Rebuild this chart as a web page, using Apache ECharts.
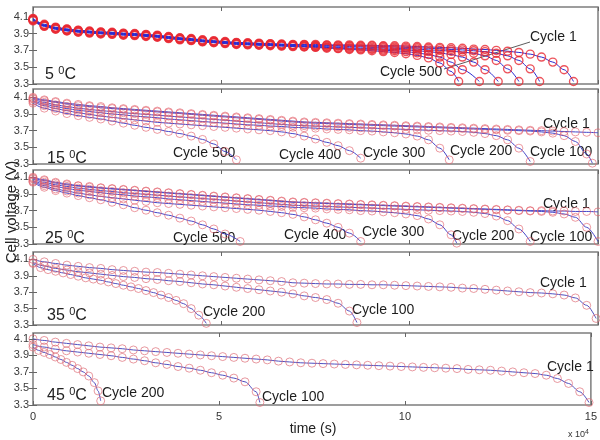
<!DOCTYPE html>
<html><head><meta charset="utf-8">
<script src="https://cdn.jsdelivr.net/npm/echarts@6/dist/echarts.min.js"></script>
<style>html,body{margin:0;padding:0;background:#fff}#c{width:600px;height:440px}</style>
</head><body><div id="c"></div>
<script>
// ---------- data (time in 1e4 s, voltage in V) ----------
const xTicks = [0, 5, 10, 15];
const yTicks = [3.3, 3.5, 3.7, 3.9, 4.1];
const temps = ['5', '15', '25', '35', '45'];

// 5 C
const p1c1 = [[0,4.08],[0.3,4.01],[0.6,3.975],[0.9,3.955],[1.2,3.94],[1.5,3.93],[1.8,3.92],[2.1,3.915],[2.4,3.905],[2.7,3.9],[3,3.89],[3.3,3.88],[3.6,3.865],[3.9,3.85],[4.2,3.84],[4.5,3.825],[4.8,3.815],[5.1,3.805],[5.4,3.795],[5.7,3.79],[6,3.785],[6.3,3.78],[6.6,3.775],[6.9,3.77],[7.2,3.77],[7.5,3.77],[7.8,3.765],[8.1,3.765],[8.4,3.765],[8.7,3.76],[9,3.76],[9.3,3.755],[9.6,3.755],[9.9,3.75],[10.2,3.745],[10.5,3.74],[10.8,3.735],[11.1,3.73],[11.4,3.725],[11.7,3.715],[12,3.71],[12.3,3.7],[12.6,3.69],[12.9,3.675],[13.2,3.655],[13.5,3.62],[13.8,3.56],[14.1,3.47],[14.35,3.33]];
const p1c100 = [[0,4.07],[0.3,4.0],[0.6,3.97],[0.9,3.95],[1.2,3.935],[1.5,3.925],[1.8,3.915],[2.1,3.91],[2.4,3.9],[2.7,3.895],[3,3.885],[3.3,3.875],[3.6,3.86],[3.9,3.845],[4.2,3.835],[4.5,3.82],[4.8,3.81],[5.1,3.8],[5.4,3.79],[5.7,3.785],[6,3.78],[6.3,3.775],[6.6,3.77],[6.9,3.765],[7.2,3.765],[7.5,3.76],[7.8,3.76],[8.1,3.755],[8.4,3.755],[8.7,3.75],[9,3.75],[9.3,3.745],[9.6,3.74],[9.9,3.735],[10.2,3.73],[10.5,3.725],[10.8,3.72],[11.1,3.71],[11.4,3.705],[11.7,3.695],[12,3.685],[12.3,3.665],[12.6,3.635],[12.9,3.58],[13.2,3.48],[13.45,3.33]];
const p1c200 = [[0,4.07],[0.3,4.0],[0.6,3.965],[0.9,3.945],[1.2,3.93],[1.5,3.92],[1.8,3.91],[2.1,3.905],[2.4,3.895],[2.7,3.89],[3,3.88],[3.3,3.87],[3.6,3.855],[3.9,3.84],[4.2,3.83],[4.5,3.815],[4.8,3.805],[5.1,3.795],[5.4,3.785],[5.7,3.78],[6,3.775],[6.3,3.77],[6.6,3.765],[6.9,3.76],[7.2,3.76],[7.5,3.755],[7.8,3.75],[8.1,3.75],[8.4,3.745],[8.7,3.74],[9,3.735],[9.3,3.73],[9.6,3.725],[9.9,3.72],[10.2,3.715],[10.5,3.705],[10.8,3.7],[11.1,3.69],[11.4,3.68],[11.7,3.665],[12,3.635],[12.3,3.58],[12.6,3.48],[12.9,3.33]];
const p1c300 = [[0,4.06],[0.3,3.995],[0.6,3.96],[0.9,3.94],[1.2,3.925],[1.5,3.915],[1.8,3.905],[2.1,3.9],[2.4,3.89],[2.7,3.885],[3,3.875],[3.3,3.865],[3.6,3.85],[3.9,3.835],[4.2,3.825],[4.5,3.81],[4.8,3.8],[5.1,3.79],[5.4,3.78],[5.7,3.775],[6,3.77],[6.3,3.765],[6.6,3.76],[6.9,3.755],[7.2,3.75],[7.5,3.745],[7.8,3.74],[8.1,3.735],[8.4,3.73],[8.7,3.725],[9,3.72],[9.3,3.715],[9.6,3.71],[9.9,3.705],[10.2,3.695],[10.5,3.685],[10.8,3.67],[11.1,3.65],[11.4,3.62],[11.7,3.56],[12,3.47],[12.35,3.33]];
const p1c400 = [[0,4.06],[0.3,3.99],[0.6,3.955],[0.9,3.935],[1.2,3.92],[1.5,3.91],[1.8,3.9],[2.1,3.895],[2.4,3.885],[2.7,3.88],[3,3.87],[3.3,3.86],[3.6,3.845],[3.9,3.83],[4.2,3.82],[4.5,3.805],[4.8,3.795],[5.1,3.785],[5.4,3.775],[5.7,3.77],[6,3.765],[6.3,3.76],[6.6,3.755],[6.9,3.75],[7.2,3.745],[7.5,3.74],[7.8,3.735],[8.1,3.725],[8.4,3.72],[8.7,3.715],[9,3.71],[9.3,3.7],[9.6,3.695],[9.9,3.685],[10.2,3.67],[10.5,3.65],[10.8,3.62],[11.1,3.56],[11.4,3.47],[11.85,3.33]];
const p1c500 = [[0,4.05],[0.3,3.985],[0.6,3.95],[0.9,3.93],[1.2,3.915],[1.5,3.905],[1.8,3.895],[2.1,3.89],[2.4,3.88],[2.7,3.875],[3,3.865],[3.3,3.855],[3.6,3.84],[3.9,3.825],[4.2,3.815],[4.5,3.8],[4.8,3.79],[5.1,3.78],[5.4,3.77],[5.7,3.765],[6,3.76],[6.3,3.755],[6.6,3.75],[6.9,3.745],[7.2,3.74],[7.5,3.735],[7.8,3.725],[8.1,3.72],[8.4,3.71],[8.7,3.705],[9,3.695],[9.3,3.685],[9.6,3.675],[9.9,3.66],[10.2,3.64],[10.5,3.61],[10.8,3.55],[11.1,3.45],[11.3,3.33]];

// 15 C
const p2c1 = [[0,4.1],[0.3,4.07],[0.6,4.05],[0.9,4.03],[1.2,4.015],[1.5,4.0],[1.8,3.99],[2.1,3.975],[2.4,3.965],[2.7,3.955],[3,3.945],[3.3,3.935],[3.6,3.925],[3.9,3.915],[4.2,3.905],[4.5,3.895],[4.8,3.885],[5.1,3.875],[5.4,3.865],[5.7,3.855],[6,3.845],[6.3,3.835],[6.6,3.825],[6.9,3.815],[7.2,3.805],[7.5,3.8],[7.8,3.795],[8.1,3.79],[8.4,3.785],[8.7,3.78],[9,3.775],[9.3,3.77],[9.6,3.765],[9.9,3.76],[10.2,3.755],[10.5,3.75],[10.8,3.745],[11.1,3.74],[11.4,3.735],[11.7,3.73],[12,3.725],[12.3,3.72],[12.6,3.715],[12.9,3.71],[13.2,3.705],[13.5,3.7],[13.8,3.695],[14.1,3.69],[14.4,3.685],[14.7,3.68],[15,3.675]];
const p2c100 = [[0,4.09],[0.3,4.06],[0.6,4.04],[0.9,4.02],[1.2,4.0],[1.5,3.99],[1.8,3.975],[2.1,3.965],[2.4,3.955],[2.7,3.945],[3,3.935],[3.3,3.925],[3.6,3.915],[3.9,3.905],[4.2,3.895],[4.5,3.885],[4.8,3.875],[5.1,3.865],[5.4,3.855],[5.7,3.845],[6,3.835],[6.3,3.825],[6.6,3.815],[6.9,3.805],[7.2,3.795],[7.5,3.79],[7.8,3.785],[8.1,3.78],[8.4,3.775],[8.7,3.77],[9,3.765],[9.3,3.76],[9.6,3.755],[9.9,3.75],[10.2,3.745],[10.5,3.74],[10.8,3.735],[11.1,3.73],[11.4,3.725],[11.7,3.72],[12,3.715],[12.3,3.71],[12.6,3.705],[12.9,3.7],[13.2,3.695],[13.5,3.685],[13.8,3.67],[14.1,3.64],[14.4,3.57],[14.7,3.42],[14.85,3.31]];
const p2c200 = [[0,4.08],[0.3,4.04],[0.6,4.01],[0.9,3.99],[1.2,3.97],[1.5,3.955],[1.8,3.94],[2.1,3.93],[2.4,3.915],[2.7,3.905],[3,3.895],[3.3,3.885],[3.6,3.875],[3.9,3.865],[4.2,3.855],[4.5,3.845],[4.8,3.835],[5.1,3.825],[5.4,3.815],[5.7,3.805],[6,3.795],[6.3,3.785],[6.6,3.775],[6.9,3.765],[7.2,3.76],[7.5,3.755],[7.8,3.75],[8.1,3.745],[8.4,3.74],[8.7,3.735],[9,3.73],[9.3,3.725],[9.6,3.72],[9.9,3.715],[10.2,3.71],[10.5,3.705],[10.8,3.7],[11.1,3.695],[11.4,3.69],[11.7,3.68],[12,3.665],[12.3,3.64],[12.6,3.59],[12.9,3.49],[13.2,3.33]];
const p2c300 = [[0,4.06],[0.3,4.02],[0.6,3.99],[0.9,3.965],[1.2,3.945],[1.5,3.93],[1.8,3.915],[2.1,3.9],[2.4,3.89],[2.7,3.875],[3,3.865],[3.3,3.855],[3.6,3.84],[3.9,3.83],[4.2,3.82],[4.5,3.81],[4.8,3.8],[5.1,3.79],[5.4,3.78],[5.7,3.77],[6,3.765],[6.3,3.755],[6.6,3.75],[6.9,3.74],[7.2,3.735],[7.5,3.73],[7.8,3.72],[8.1,3.715],[8.4,3.71],[8.7,3.7],[9,3.695],[9.3,3.685],[9.6,3.675],[9.9,3.66],[10.2,3.635],[10.5,3.59],[10.8,3.49],[11.05,3.35]];
const p2c400 = [[0,4.05],[0.3,4.0],[0.6,3.965],[0.9,3.94],[1.2,3.915],[1.5,3.895],[1.8,3.875],[2.1,3.86],[2.4,3.845],[2.7,3.83],[3,3.815],[3.3,3.8],[3.6,3.79],[3.9,3.78],[4.2,3.77],[4.5,3.76],[4.8,3.75],[5.1,3.74],[5.4,3.73],[5.7,3.72],[6,3.71],[6.3,3.7],[6.6,3.685],[6.9,3.665],[7.2,3.635],[7.5,3.6],[7.8,3.56],[8.1,3.52],[8.4,3.46],[8.7,3.37]];
const p2c500 = [[0,4.03],[0.3,3.97],[0.6,3.935],[0.9,3.905],[1.2,3.88],[1.5,3.86],[1.8,3.84],[2.1,3.815],[2.4,3.79],[2.7,3.765],[3,3.74],[3.3,3.715],[3.6,3.69],[3.9,3.665],[4.2,3.635],[4.5,3.595],[4.8,3.54],[5.1,3.45],[5.4,3.35]];

// 25 C
const p3c1 = [[0,4.1],[0.3,4.07],[0.6,4.04],[0.9,4.02],[1.2,4.0],[1.5,3.99],[1.8,3.975],[2.1,3.965],[2.4,3.955],[2.7,3.945],[3,3.935],[3.3,3.925],[3.6,3.915],[3.9,3.905],[4.2,3.895],[4.5,3.885],[4.8,3.875],[5.1,3.865],[5.4,3.855],[5.7,3.845],[6,3.835],[6.3,3.825],[6.6,3.815],[6.9,3.805],[7.2,3.8],[7.5,3.795],[7.8,3.79],[8.1,3.785],[8.4,3.78],[8.7,3.775],[9,3.77],[9.3,3.765],[9.6,3.76],[9.9,3.755],[10.2,3.75],[10.5,3.745],[10.8,3.74],[11.1,3.735],[11.4,3.73],[11.7,3.725],[12,3.72],[12.3,3.715],[12.6,3.71],[12.9,3.705],[13.2,3.7],[13.5,3.7],[13.8,3.695],[14.1,3.695],[14.4,3.69],[14.7,3.69],[15,3.685]];
const p3c100 = [[0,4.09],[0.3,4.06],[0.6,4.03],[0.9,4.01],[1.2,3.995],[1.5,3.98],[1.8,3.97],[2.1,3.96],[2.4,3.95],[2.7,3.94],[3,3.93],[3.3,3.92],[3.6,3.91],[3.9,3.9],[4.2,3.89],[4.5,3.88],[4.8,3.87],[5.1,3.86],[5.4,3.85],[5.7,3.84],[6,3.83],[6.3,3.82],[6.6,3.81],[6.9,3.8],[7.2,3.795],[7.5,3.79],[7.8,3.785],[8.1,3.78],[8.4,3.775],[8.7,3.77],[9,3.765],[9.3,3.76],[9.6,3.755],[9.9,3.75],[10.2,3.745],[10.5,3.74],[10.8,3.735],[11.1,3.73],[11.4,3.725],[11.7,3.72],[12,3.715],[12.3,3.71],[12.6,3.705],[12.9,3.7],[13.2,3.695],[13.5,3.69],[13.8,3.68],[14.1,3.66],[14.4,3.62],[14.7,3.5],[15,3.33]];
const p3c200 = [[0,4.08],[0.3,4.04],[0.6,4.01],[0.9,3.99],[1.2,3.97],[1.5,3.955],[1.8,3.94],[2.1,3.93],[2.4,3.915],[2.7,3.905],[3,3.895],[3.3,3.885],[3.6,3.875],[3.9,3.865],[4.2,3.855],[4.5,3.845],[4.8,3.835],[5.1,3.825],[5.4,3.815],[5.7,3.805],[6,3.795],[6.3,3.785],[6.6,3.775],[6.9,3.765],[7.2,3.76],[7.5,3.755],[7.8,3.75],[8.1,3.745],[8.4,3.74],[8.7,3.735],[9,3.73],[9.3,3.725],[9.6,3.72],[9.9,3.715],[10.2,3.71],[10.5,3.705],[10.8,3.7],[11.1,3.695],[11.4,3.69],[11.7,3.68],[12,3.665],[12.3,3.635],[12.6,3.58],[12.9,3.48],[13.2,3.33]];
const p3c300 = [[0,4.06],[0.3,4.02],[0.6,3.99],[0.9,3.965],[1.2,3.945],[1.5,3.93],[1.8,3.915],[2.1,3.9],[2.4,3.89],[2.7,3.875],[3,3.865],[3.3,3.855],[3.6,3.84],[3.9,3.83],[4.2,3.82],[4.5,3.81],[4.8,3.8],[5.1,3.79],[5.4,3.78],[5.7,3.77],[6,3.765],[6.3,3.755],[6.6,3.75],[6.9,3.74],[7.2,3.735],[7.5,3.73],[7.8,3.72],[8.1,3.715],[8.4,3.71],[8.7,3.7],[9,3.695],[9.3,3.685],[9.6,3.675],[9.9,3.66],[10.2,3.64],[10.5,3.6],[10.8,3.53],[11.1,3.41],[11.25,3.31]];
const p3c400 = [[0,4.05],[0.3,4.0],[0.6,3.96],[0.9,3.935],[1.2,3.91],[1.5,3.89],[1.8,3.87],[2.1,3.855],[2.4,3.84],[2.7,3.825],[3,3.81],[3.3,3.795],[3.6,3.785],[3.9,3.775],[4.2,3.765],[4.5,3.755],[4.8,3.745],[5.1,3.735],[5.4,3.725],[5.7,3.715],[6,3.705],[6.3,3.69],[6.6,3.675],[6.9,3.655],[7.2,3.625],[7.5,3.59],[7.8,3.55],[8.1,3.5],[8.4,3.43],[8.7,3.33]];
const p3c500 = [[0,4.04],[0.3,3.98],[0.6,3.94],[0.9,3.91],[1.2,3.88],[1.5,3.855],[1.8,3.83],[2.1,3.8],[2.4,3.77],[2.7,3.735],[3,3.705],[3.3,3.675],[3.6,3.645],[3.9,3.61],[4.2,3.575],[4.5,3.53],[4.8,3.48],[5.1,3.42],[5.5,3.33]];

// 35 C
const p4c1 = [[0,4.1],[0.3,4.07],[0.6,4.05],[0.9,4.03],[1.2,4.015],[1.5,4.0],[1.8,3.99],[2.1,3.975],[2.4,3.965],[2.7,3.955],[3,3.945],[3.3,3.94],[3.6,3.93],[3.9,3.92],[4.2,3.91],[4.5,3.9],[4.8,3.89],[5.1,3.88],[5.4,3.87],[5.7,3.86],[6,3.85],[6.3,3.84],[6.6,3.83],[6.9,3.815],[7.2,3.81],[7.5,3.805],[7.8,3.8],[8.1,3.8],[8.4,3.795],[8.7,3.795],[9,3.79],[9.3,3.79],[9.6,3.785],[9.9,3.78],[10.2,3.775],[10.5,3.77],[10.8,3.765],[11.1,3.76],[11.4,3.75],[11.7,3.745],[12,3.735],[12.3,3.725],[12.6,3.715],[12.9,3.705],[13.2,3.695],[13.5,3.69],[13.8,3.68],[14.1,3.665],[14.4,3.63],[14.7,3.54],[14.95,3.38]];
const p4c100 = [[0,4.06],[0.3,4.02],[0.6,3.99],[0.9,3.97],[1.2,3.95],[1.5,3.935],[1.8,3.92],[2.1,3.905],[2.4,3.89],[2.7,3.88],[3,3.865],[3.3,3.855],[3.6,3.84],[3.9,3.83],[4.2,3.815],[4.5,3.8],[4.8,3.79],[5.1,3.775],[5.4,3.76],[5.7,3.745],[6,3.73],[6.3,3.715],[6.6,3.7],[6.9,3.68],[7.2,3.655],[7.5,3.635],[7.8,3.61],[8.1,3.565],[8.4,3.47],[8.6,3.33]];
const p4c200 = [[0,4.05],[0.2,4.0],[0.4,3.975],[0.6,3.955],[0.8,3.935],[1,3.915],[1.2,3.895],[1.4,3.875],[1.6,3.86],[1.8,3.845],[2,3.825],[2.2,3.805],[2.4,3.785],[2.6,3.765],[2.8,3.745],[3,3.72],[3.2,3.695],[3.4,3.665],[3.6,3.635],[3.8,3.6],[4,3.56],[4.2,3.5],[4.4,3.42],[4.6,3.32]];

// 45 C
const p5c1 = [[0,4.1],[0.3,4.08],[0.6,4.06],[0.9,4.045],[1.2,4.03],[1.5,4.015],[1.8,4.0],[2.1,3.99],[2.4,3.98],[2.7,3.965],[3,3.955],[3.3,3.945],[3.6,3.935],[3.9,3.925],[4.2,3.915],[4.5,3.905],[4.8,3.895],[5.1,3.885],[5.4,3.875],[5.7,3.865],[6,3.855],[6.3,3.845],[6.6,3.83],[6.9,3.82],[7.2,3.81],[7.5,3.805],[7.8,3.8],[8.1,3.795],[8.4,3.79],[8.7,3.785],[9,3.78],[9.3,3.775],[9.6,3.77],[9.9,3.765],[10.2,3.76],[10.5,3.755],[10.8,3.75],[11.1,3.745],[11.4,3.74],[11.7,3.73],[12,3.725],[12.3,3.72],[12.6,3.71],[12.9,3.7],[13.2,3.69],[13.5,3.68],[13.8,3.66],[14.1,3.62],[14.4,3.56],[14.7,3.46],[14.95,3.33]];
const p5c100 = [[0,4.03],[0.3,4.0],[0.6,3.975],[0.9,3.955],[1.2,3.94],[1.5,3.925],[1.8,3.91],[2.1,3.895],[2.4,3.875],[2.7,3.855],[3,3.835],[3.3,3.81],[3.6,3.79],[3.9,3.765],[4.2,3.745],[4.5,3.72],[4.8,3.69],[5.1,3.66],[5.4,3.625],[5.7,3.58],[6,3.46],[6.1,3.33]];
const p5c200 = [[0,4.0],[0.15,3.96],[0.3,3.935],[0.45,3.91],[0.6,3.88],[0.75,3.85],[0.9,3.815],[1.05,3.78],[1.2,3.74],[1.35,3.7],[1.5,3.65],[1.65,3.57],[1.75,3.47],[1.82,3.35]];

const panelCurves = [
  [p1c1, p1c100, p1c200, p1c300, p1c400, p1c500],
  [p2c1, p2c100, p2c200, p2c300, p2c400, p2c500],
  [p3c1, p3c100, p3c200, p3c300, p3c400, p3c500],
  [p4c1, p4c100, p4c200],
  [p5c1, p5c100, p5c200]
];
const cycleLabels = [
  [['Cycle 1', 530, 37], ['Cycle 500', 380, 72]],
  [['Cycle 500', 173, 153], ['Cycle 400', 279, 155], ['Cycle 300', 363, 153], ['Cycle 200', 450, 151], ['Cycle 100', 530, 152], ['Cycle 1', 543, 124]],
  [['Cycle 500', 173, 238], ['Cycle 400', 284, 235], ['Cycle 300', 362, 232], ['Cycle 200', 452, 236], ['Cycle 100', 530, 237], ['Cycle 1', 543, 204]],
  [['Cycle 200', 203, 312], ['Cycle 100', 352, 310], ['Cycle 1', 540, 283]],
  [['Cycle 200', 102, 393], ['Cycle 100', 262, 397], ['Cycle 1', 547, 367]]
];

// ---------- layout ----------
const FONT = '"Liberation Sans", Arial, sans-serif';
const layout = [
  {top: 7, h: 77, max: 4.215, tx: 45, ty: 74},
  {top: 89, h: 75, max: 4.2, tx: 47, ty: 158},
  {top: 170, h: 74, max: 4.187, tx: 45, ty: 238},
  {top: 252, h: 73, max: 4.19, tx: 47, ty: 315},
  {top: 333, h: 72, max: 4.17, tx: 47, ty: 395}
];
const markerStyle = [
  {borderColor: 'rgba(232,40,50,0.8)', borderWidth: 1.4},
  {borderColor: 'rgba(228,100,110,0.65)', borderWidth: 1},
  {borderColor: 'rgba(228,100,110,0.65)', borderWidth: 1},
  {borderColor: 'rgba(222,110,120,0.7)', borderWidth: 1},
  {borderColor: 'rgba(222,110,120,0.7)', borderWidth: 1}
];
const lineColor = ['#2a2ad0', '#4646c8', '#4646c8', '#5050c0', '#5050c0'];

const grids = [], xAxes = [], yAxes = [], series = [], graphics = [];
layout.forEach((L, i) => {
  grids.push({left: 33, right: 2, top: L.top, height: L.h, show: true, borderColor: '#7d7d7d', borderWidth: 1.5});
});
const tickStyle = {show: true, inside: true, length: 4, lineStyle: {color: '#666', width: 1}};
for (let i = 0; i < 5; i++) {
  xAxes.push({gridIndex: i, type: 'value', min: 0, max: 15, interval: 5, position: 'bottom',
    axisLine: {show: false}, splitLine: {show: false}, axisTick: tickStyle,
    axisLabel: {show: i === 4, fontSize: 11, color: '#333', fontFamily: FONT, margin: 6}});
}
for (let i = 0; i < 5; i++) {
  xAxes.push({gridIndex: i, type: 'value', min: 0, max: 15, interval: 5, position: 'top',
    axisLine: {show: false}, splitLine: {show: false}, axisTick: tickStyle, axisLabel: {show: false}});
}
for (let i = 0; i < 5; i++) {
  yAxes.push({gridIndex: i, type: 'value', min: 3.3, max: layout[i].max, position: 'left',
    axisLine: {show: false}, splitLine: {show: false},
    axisTick: Object.assign({customValues: yTicks}, tickStyle),
    axisLabel: {customValues: yTicks, formatter: v => v.toFixed(1), fontSize: 11, color: '#3a3a3a', fontFamily: FONT, margin: 4}});
}
for (let i = 0; i < 5; i++) {
  yAxes.push({gridIndex: i, type: 'value', min: 3.3, max: layout[i].max, position: 'right',
    axisLine: {show: false}, splitLine: {show: false},
    axisTick: Object.assign({customValues: yTicks}, tickStyle),
    axisLabel: {show: false, customValues: yTicks}});
}

panelCurves.forEach((curves, i) => {
  curves.forEach(d => {
    series.push({
      type: 'line', xAxisIndex: i, yAxisIndex: i, data: d,
      smooth: 0.3, smoothMonotone: 'x', clip: true,
      symbol: 'circle', symbolSize: 8, showSymbol: true,
      lineStyle: {color: lineColor[i], width: 1},
      itemStyle: Object.assign({color: 'rgba(255,255,255,0)'}, markerStyle[i]),
      emphasis: {disabled: true}, silent: true
    });
  });
});

// temperature labels
layout.forEach((L, i) => {
  graphics.push({type: 'text', x: L.tx, y: L.ty, style: {
    text: '{a|' + temps[i] + ' }{s|0}{a|C}', verticalAlign: 'middle',
    rich: {a: {fontSize: 16, fontFamily: FONT, fill: '#222', lineHeight: 18, verticalAlign: 'bottom'},
           s: {fontSize: 11, fontFamily: FONT, fill: '#222', lineHeight: 18, verticalAlign: 'top'}}
  }});
});
// cycle labels
cycleLabels.forEach(arr => arr.forEach(([t, x, y]) => {
  graphics.push({type: 'text', x: x, y: y, style: {text: t, font: '14px ' + FONT, fill: '#1c1c1c', verticalAlign: 'middle'}});
}));
// pointer line in 5 C panel
graphics.push({type: 'line', shape: {x1: 530, y1: 42, x2: 444, y2: 69}, style: {stroke: '#333', lineWidth: 0.8}});
// axis titles
graphics.push({type: 'text', x: 313, y: 429, style: {text: 'time (s)', font: '14px ' + FONT, fill: '#222', align: 'center', verticalAlign: 'middle'}});
graphics.push({type: 'text', x: 568, y: 434, style: {text: '{a|x 10}{s|4}', verticalAlign: 'middle',
  rich: {a: {fontSize: 9, fontFamily: FONT, fill: '#333', lineHeight: 10, verticalAlign: 'bottom'}, s: {fontSize: 7, fontFamily: FONT, fill: '#333', lineHeight: 10, verticalAlign: 'top'}}}});
graphics.push({type: 'text', x: 12, y: 212, rotation: Math.PI / 2, style: {text: 'Cell voltage (V)', font: '15px ' + FONT, fill: '#222', align: 'center', verticalAlign: 'middle'}});

const chart = echarts.init(document.getElementById('c'), null, {renderer: 'canvas'});
chart.setOption({
  animation: false, backgroundColor: '#fff',
  grid: grids, xAxis: xAxes, yAxis: yAxes, series: series, graphic: graphics
});
</script>
</body></html>
